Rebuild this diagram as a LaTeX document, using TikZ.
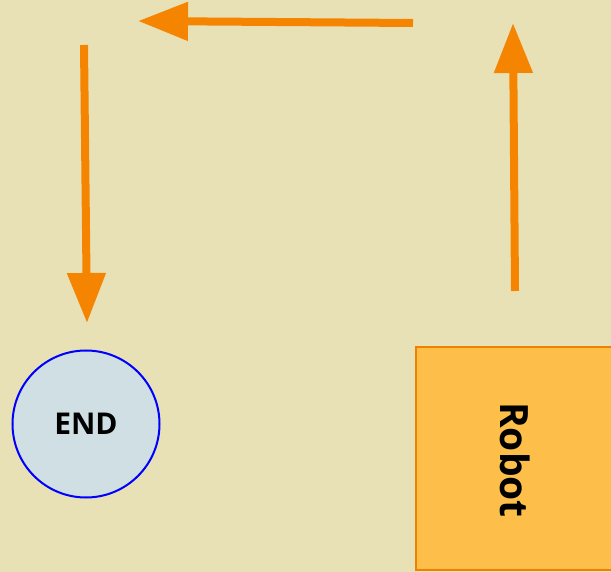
\documentclass[tikz,border=0pt]{standalone}
\usepackage{fontspec}
\setsansfont{Open Sans}
\usepackage{tikz}
\usetikzlibrary{arrows.meta,positioning}
\definecolor{bgsand}{HTML}{E8E1B6}
\definecolor{flow}{HTML}{F58400}
\definecolor{robotfill}{HTML}{FDBF4A}
\definecolor{robotedge}{HTML}{F08000}
\definecolor{endfill}{HTML}{D0DFE3}

\begin{document}
\begin{tikzpicture}[x=1pt,y=-1pt,font=\sffamily\bfseries,
  move/.style={flow,line width=8pt,-{Triangle[length=50pt,width=37pt]}}]
\fill[bgsand] (0,0) rectangle (611,572);
\useasboundingbox (0,0) rectangle (611,572);
\node[draw=blue,fill=endfill,line width=2pt,circle,minimum size=147pt,inner sep=0pt,font=\sffamily\bfseries\fontsize{30}{34}\selectfont] (end) at (86,424) {END};
\node[draw=robotedge,fill=robotfill,line width=2pt,minimum width=198pt,minimum height=222pt,inner sep=0pt] (robot) at (515,458.5) {};
\node[rotate=-90,font=\sffamily\bfseries\fontsize{39}{44}\selectfont] (robotlabel) at (515,460) {Robot};
\coordinate (upfrom) at (515,291);
\coordinate (upto) at (513,23);
\coordinate (leftfrom) at (413,23);
\coordinate (leftto) at (138,21);
\coordinate (downfrom) at (84,45);
\coordinate (downto) at (87,323);
\draw[move] (upfrom)--(upto);
\draw[move] (leftfrom)--(leftto);
\draw[move] (downfrom)--(downto);
\end{tikzpicture}
\end{document}
